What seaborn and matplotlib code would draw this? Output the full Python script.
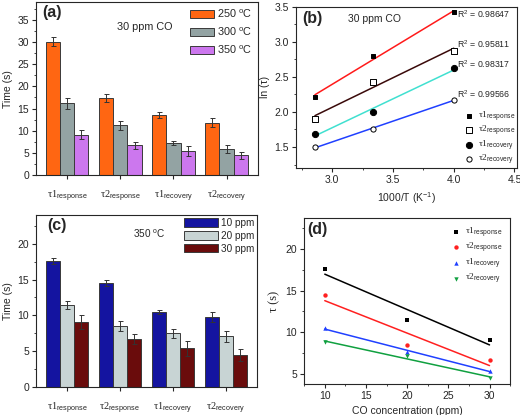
import numpy as np
import pandas as pd
import seaborn as sns
import matplotlib.pyplot as plt
from matplotlib.ticker import MultipleLocator, AutoMinorLocator

sns.set_style('ticks')
plt.rcParams['font.family'] = ['Liberation Sans', 'DejaVu Sans']
plt.rcParams['mathtext.fontset'] = 'custom'
plt.rcParams['mathtext.rm'] = 'Liberation Sans'
plt.rcParams['mathtext.sf'] = 'Liberation Sans'
plt.rcParams['mathtext.it'] = 'Liberation Sans:italic'
plt.rcParams['axes.linewidth'] = 0.8

# categories / tick labels
params = ['t1_resp', 't2_resp', 't1_rec', 't2_rec']
tau_labels = [r'τ1$_{\mathsf{response}}$', r'τ2$_{\mathsf{response}}$',
              r'τ1$_{\mathsf{recovery}}$', r'τ2$_{\mathsf{recovery}}$']

# (a) 30 ppm CO, different temperatures
temp_names = ['250 $^{\\mathrm{o}}$C', '300 $^{\\mathrm{o}}$C', '350 $^{\\mathrm{o}}$C']
t_250 = [30.1, 17.4, 13.6, 11.8]
t_300 = [16.2, 11.2, 7.3, 5.8]
t_350 = [9.1, 6.7, 5.4, 4.5]
e_250 = [1.0, 0.9, 0.7, 1.0]
e_300 = [1.2, 1.1, 0.5, 0.9]
e_350 = [1.0, 0.75, 1.1, 0.8]

# (b) Arrhenius type plot
inv_T = [2.857, 3.333, 4.0]
ln_t1_resp = [2.215, 2.794, 3.42]
ln_t2_resp = [1.90, 2.427, 2.874]
ln_t1_rec = [1.69, 1.995, 2.62]
ln_t2_rec = [1.50, 1.75, 2.173]
r2_labels = ['0.98647', '0.95811', '0.98317', '0.99566']

# (c) 350 C, different concentrations
conc_names = ['10 ppm', '20 ppm', '30 ppm']
c_10 = [17.6, 14.5, 10.5, 9.8]
c_20 = [11.5, 8.5, 7.5, 7.1]
c_30 = [9.1, 6.7, 5.4, 4.5]
ce_10 = [0.4, 0.4, 0.3, 0.65]
ce_20 = [0.55, 0.7, 0.6, 0.75]
ce_30 = [0.95, 0.7, 1.0, 0.8]

# (d) tau vs concentration
conc = [10, 20, 30]
d_t1_resp = [17.6, 11.5, 9.1]
d_t2_resp = [14.5, 8.5, 6.7]
d_t1_rec = [10.5, 7.6, 5.4]
d_t2_rec = [8.8, 7.1, 4.5]

fs = 7.5
serif = ['Liberation Serif', 'DejaVu Serif']

fig = plt.figure(figsize=(5.2, 4.15), dpi=100)
ax_a = fig.add_axes([0.069, 0.578, 0.427, 0.417])
ax_b = fig.add_axes([0.569, 0.595, 0.425, 0.389])
ax_c = fig.add_axes([0.069, 0.067, 0.425, 0.415])
ax_d = fig.add_axes([0.585, 0.075, 0.396, 0.399])


def style_ticks(ax):
    ax.tick_params(which='major', direction='out', length=3, width=0.8, labelsize=fs, pad=2)
    ax.tick_params(which='minor', direction='out', length=1.5, width=0.6)


def bar_panel(ax, vals, errs, names, colors, leg_kw):
    rows = []
    for name, vv in zip(names, vals):
        for p, v in zip(params, vv):
            rows.append({'param': p, 'time': v, 'group': name})
    df = pd.DataFrame(rows)
    sns.barplot(data=df, x='param', y='time', hue='group', palette=colors,
                saturation=1, edgecolor='#3a3a3a', linewidth=0.7, errorbar=None, ax=ax)
    for cont, ee in zip(list(ax.containers), errs):
        xs = [b.get_x() + b.get_width() / 2 for b in cont]
        ys = [b.get_height() for b in cont]
        ax.errorbar(xs, ys, yerr=ee, fmt='none', ecolor='#333333', elinewidth=0.7,
                    capsize=1.8, capthick=0.7)
    h, l = ax.get_legend_handles_labels()
    ax.legend(h[:3], l[:3], loc='upper right', frameon=False, **leg_kw)
    ax.set_xlabel('')
    ax.set_ylabel('Time (s)', fontsize=fs, labelpad=3)
    ax.set_xticks(range(4))
    ax.set_xticklabels(tau_labels, family=serif, fontsize=fs + 0.5)
    ax.yaxis.set_minor_locator(AutoMinorLocator(2))
    style_ticks(ax)
    ax.tick_params(axis='x', pad=7)


# (a)
bar_panel(ax_a, [t_250, t_300, t_350], [e_250, e_300, e_350], temp_names,
          ['#ff6612', '#93a3a3', '#cc77ee'],
          dict(fontsize=fs + 0.3, handlelength=2.2, handleheight=0.75, labelspacing=0.5,
               handletextpad=0.3, borderaxespad=0.3, borderpad=0.2))
ax_a.set_ylim(0, 39)
ax_a.yaxis.set_major_locator(MultipleLocator(5))
ax_a.text(0.03, 0.985, '(a)', transform=ax_a.transAxes, fontsize=11.5,
          fontweight='bold', va='top')
ax_a.text(0.365, 0.855, '30 ppm CO', transform=ax_a.transAxes, fontsize=fs + 0.3, va='center')

# (c)
bar_panel(ax_c, [c_10, c_20, c_30], [ce_10, ce_20, ce_30], conc_names,
          ['#1414a0', '#c8d4d4', '#6a0c0c'],
          dict(fontsize=fs - 0.3, handlelength=3.4, handleheight=0.95, labelspacing=0.28,
               handletextpad=0.3, borderaxespad=0.1, borderpad=0.2))
ax_c.set_ylim(0, 24)
ax_c.yaxis.set_major_locator(MultipleLocator(5))
ax_c.text(0.05, 0.98, '(c)', transform=ax_c.transAxes, fontsize=11.5,
          fontweight='bold', va='top')
ax_c.text(0.44, 0.89, '350 $^{\\mathrm{o}}$C', transform=ax_c.transAxes, fontsize=fs - 0.3, va='center')

# (b)
b_series = [ln_t1_resp, ln_t2_resp, ln_t1_rec, ln_t2_rec]
b_lines = ['#ff1a1a', '#3a0a0a', '#40e0d0', '#2040ff']
b_marker = ['s', 's', 'o', 'o']
b_face = ['black', 'white', 'black', 'white']
b_size = [7, 14, 20, 14]
for yy, lc, mk, fc, sz, lab in zip(b_series, b_lines, b_marker, b_face, b_size, tau_labels):
    sns.regplot(x=inv_T, y=yy, ci=None, ax=ax_b, label=lab, marker=mk,
                scatter_kws={'facecolors': fc, 'edgecolors': 'black', 's': sz,
                             'linewidths': 0.7, 'zorder': 3, 'alpha': 1},
                line_kws={'color': lc, 'lw': 1.1, 'zorder': 2})
ax_b.set_xlim(2.7, 4.52)
ax_b.set_ylim(1.2, 3.5)
ax_b.xaxis.set_major_locator(MultipleLocator(0.5))
ax_b.yaxis.set_major_locator(MultipleLocator(0.5))
ax_b.xaxis.set_minor_locator(AutoMinorLocator(2))
ax_b.yaxis.set_minor_locator(AutoMinorLocator(2))
ax_b.xaxis.set_major_formatter(plt.FormatStrFormatter('%.1f'))
ax_b.yaxis.set_major_formatter(plt.FormatStrFormatter('%.1f'))
style_ticks(ax_b)
ax_b.set_xlabel('1000/T (K$^{-1}$)', fontsize=fs, labelpad=4)
ax_b.set_ylabel('ln (τ)', fontsize=fs, labelpad=3)
for ypos, r2 in zip([3.40, 2.97, 2.68, 2.25], r2_labels):
    ax_b.text(4.03, ypos, 'R$^2$ = ' + r2, fontsize=6.3, va='center')
ax_b.legend(loc='lower right', frameon=False, prop={'family': serif, 'size': 6.8},
            handletextpad=0.3, labelspacing=0.0, borderaxespad=0.05, handlelength=1.2,
            borderpad=0.1)
ax_b.text(0.03, 0.975, '(b)', transform=ax_b.transAxes, fontsize=11.5,
          fontweight='bold', va='top')
ax_b.text(0.235, 0.924, '30 ppm CO', transform=ax_b.transAxes, fontsize=fs, va='center')

# (d)
d_series = [d_t1_resp, d_t2_resp, d_t1_rec, d_t2_rec]
d_colors = ['black', '#ff2020', '#2040ff', '#10a040']
d_marker = ['s', 'o', '^', 'v']
for yy, cc, mk, lab in zip(d_series, d_colors, d_marker, tau_labels):
    sns.regplot(x=conc, y=yy, ci=None, ax=ax_d, label=lab, marker=mk, color=cc,
                scatter_kws={'s': 10, 'linewidths': 0, 'zorder': 3, 'alpha': 1},
                line_kws={'color': cc, 'lw': 1.1, 'zorder': 2})
ax_d.set_xlim(7.5, 32.5)
ax_d.set_ylim(3.8, 23.7)
ax_d.xaxis.set_major_locator(MultipleLocator(5))
ax_d.yaxis.set_major_locator(MultipleLocator(5))
ax_d.xaxis.set_minor_locator(AutoMinorLocator(2))
ax_d.yaxis.set_minor_locator(AutoMinorLocator(2))
style_ticks(ax_d)
ax_d.set_xlabel('CO concentration (ppm)', fontsize=fs, labelpad=4)
ax_d.set_ylabel('τ (s)', fontsize=fs + 1.5, family=serif, labelpad=4)
ax_d.legend(loc='upper right', frameon=False, prop={'family': serif, 'size': 6.8},
            handletextpad=0.3, labelspacing=0.15, borderaxespad=0.5, handlelength=1.2,
            borderpad=0.3)
ax_d.text(0.015, 0.975, '(d)', transform=ax_d.transAxes, fontsize=11.5,
          fontweight='bold', va='top')

fig.savefig('out.png', dpi=100)
